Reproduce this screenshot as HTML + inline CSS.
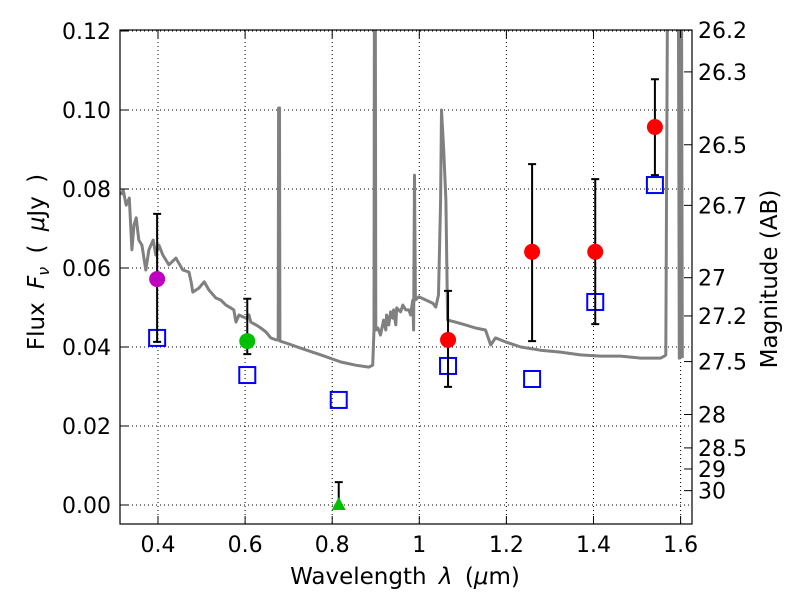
<!DOCTYPE html>
<html><head><meta charset="utf-8">
<style>
body{margin:0;background:#fff;}
svg text{font-family:"DejaVu Sans","Liberation Sans",sans-serif;}
</style></head>
<body>
<svg id="chart" width="800" height="600" xmlns="http://www.w3.org/2000/svg">
<defs><clipPath id="clip"><rect x="120" y="30" width="572" height="494"/></clipPath></defs>
<rect x="0" y="0" width="800" height="600" fill="#fff"/>
<g id="grid"></g>
<g id="spec" clip-path="url(#clip)"></g>
<g id="marks" clip-path="url(#clip)"></g>
<rect x="120" y="30" width="572" height="494" fill="none" stroke="#000" stroke-width="1.2"/>
<g id="axes"></g>
<text x="405" y="584" font-size="23" text-anchor="middle" word-spacing="5">Wavelength  <tspan font-style="italic">λ</tspan> (<tspan font-style="italic">μ</tspan>m)</text>
<text transform="translate(44,262) rotate(-90)" font-size="23" text-anchor="middle" word-spacing="6">Flux <tspan font-style="italic">F<tspan font-size="16" dy="5">ν</tspan></tspan><tspan dy="-5"> ( </tspan><tspan font-style="italic">μ</tspan>Jy )</text>
<text transform="translate(777,279) rotate(-90)" font-size="23" text-anchor="middle">Magnitude (AB)</text>
</svg>
<script>
const xTicks=[0.4,0.6,0.8,1.0,1.2,1.4,1.6];
const xTickLabels=["0.4","0.6","0.8","1","1.2","1.4","1.6"];
const yTicks=[0,0.02,0.04,0.06,0.08,0.10,0.12];
const yTickLabels=["0.00","0.02","0.04","0.06","0.08","0.10","0.12"];
const magTicks=[26.2,26.3,26.5,26.7,27,27.2,27.5,28,28.5,29,30];
const specWave=[0.315,0.320,0.327,0.334,0.340,0.345,0.350,0.356,0.363,0.372,0.379,0.389,0.395,0.402,0.411,0.425,0.441,0.457,0.471,0.476,0.480,0.494,0.506,0.517,0.533,0.544,0.556,0.567,0.574,0.579,0.586,0.602,0.609,0.613,0.625,0.636,0.648,0.659,0.671,0.676,0.677,0.679,0.680,0.694,0.728,0.774,0.820,0.854,0.884,0.893,0.896,0.897,0.899,0.900,0.905,0.911,0.918,0.923,0.925,0.930,0.934,0.939,0.941,0.946,0.948,0.957,0.962,0.969,0.976,0.980,0.985,0.987,0.989,0.991,0.999,1.015,1.031,1.038,1.044,1.049,1.051,1.056,1.061,1.065,1.083,1.106,1.129,1.152,1.164,1.175,1.198,1.233,1.278,1.324,1.370,1.416,1.462,1.508,1.554,1.563,1.566,1.570,1.595,1.597,1.600,1.602,1.604];
const specFlux=[0.0785,0.0797,0.0759,0.0777,0.0646,0.0709,0.0727,0.0671,0.0658,0.0595,0.0646,0.0671,0.0633,0.0658,0.0633,0.0608,0.0625,0.0595,0.0590,0.0565,0.0539,0.0549,0.0565,0.0544,0.0524,0.0519,0.0506,0.0499,0.0494,0.0463,0.0481,0.0473,0.0481,0.0463,0.0456,0.0448,0.0438,0.0423,0.0418,0.0418,0.1005,0.1005,0.0415,0.0410,0.0397,0.0380,0.0362,0.0354,0.0349,0.0354,0.0443,0.13,0.13,0.0443,0.0448,0.0430,0.0468,0.0443,0.0481,0.0456,0.0489,0.0473,0.0494,0.0456,0.0499,0.0489,0.0506,0.0494,0.0494,0.0481,0.0519,0.0443,0.0835,0.0519,0.0527,0.0519,0.0511,0.0501,0.0532,0.0772,0.1000,0.0899,0.0772,0.0468,0.0463,0.0456,0.0448,0.0443,0.0405,0.0423,0.0413,0.0400,0.0392,0.0387,0.0380,0.0377,0.0377,0.0372,0.0372,0.0377,0.0380,0.13,0.13,0.0372,0.13,0.13,0.0372];
const obsWave=[0.398,0.605,0.815,1.066,1.259,1.404,1.541];
const obsFlux=[0.0572,0.0415,0.0,0.0418,0.0641,0.0641,0.0957];
const obsErrHi=[0.0737,0.0522,0.0058,0.0542,0.0863,0.0825,0.1078];
const obsErrLo=[0.0413,0.0382,0.0,0.0299,0.0415,0.0458,0.0835];
const obsColors=["#bf00bf","#00bf00","#00bf00","#ff0000","#ff0000","#ff0000","#ff0000"];
const modelFlux=[0.0423,0.0329,0.0266,0.0352,0.0319,0.0514,0.0810];

const NS="http://www.w3.org/2000/svg";
const X=w=>158+(w-0.4)*435.5;
const Y=f=>505-f*3950;
function el(t,a,p){const e=document.createElementNS(NS,t);for(const k in a)e.setAttribute(k,a[k]);p.appendChild(e);return e;}
const grid=document.getElementById('grid'),axes=document.getElementById('axes'),spec=document.getElementById('spec'),marks=document.getElementById('marks');
xTicks.forEach((v,i)=>{
 const x=X(v);
 const g=el('line',{x1:x,x2:x,y1:30,y2:524,stroke:'#000','stroke-width':1,'stroke-dasharray':'1,3'},grid);
 
 
 el('line',{x1:x,x2:x,y1:524,y2:516,stroke:'#000'},axes);
 el('line',{x1:x,x2:x,y1:30,y2:38,stroke:'#000'},axes);
 const t=el('text',{x:x,y:552,'font-size':22,'text-anchor':'middle'},axes);t.textContent=xTickLabels[i];
 
 
});
yTicks.forEach((v,i)=>{
 const y=Y(v);
 const g=el('line',{x1:120,x2:692,y1:y,y2:y,stroke:'#000','stroke-width':1,'stroke-dasharray':'1,3'},grid);
 
 
 el('line',{x1:120,x2:128,y1:y,y2:y,stroke:'#000'},axes);
 const t=el('text',{x:111,y:y+8,'font-size':22,'text-anchor':'end'},axes);t.textContent=yTickLabels[i];
 
 
});
magTicks.forEach(m=>{
 const y=Y(Math.pow(10,(23.9-m)/2.5));
 el('line',{x1:692,x2:684,y1:y,y2:y,stroke:'#000'},axes);
 const t=el('text',{x:698,y:y+8,'font-size':22},axes);t.textContent=String(m);
 
 
});
const n=Math.min(specWave.length,specFlux.length);
let d='';for(let i=0;i<n;i++)d+=(i?'L':'M')+X(specWave[i]).toFixed(1)+','+Y(specFlux[i]).toFixed(1);
const sp=el('path',{d:d,fill:'none',stroke:'#808080','stroke-width':3,'stroke-linejoin':'round'},spec);


obsWave.forEach((w,i)=>{
 const x=X(w);
 const s=el('rect',{x:x-8,y:Y(modelFlux[i])-8,width:16,height:16,fill:'none',stroke:'#0000ff','stroke-width':2},marks);
 
 
});
obsWave.forEach((w,i)=>{
 const x=X(w);
 const e=el('path',{d:`M${x},${Y(obsErrHi[i])}V${Y(obsErrLo[i])}M${x-4},${Y(obsErrHi[i])}h8M${x-4},${Y(obsErrLo[i])}h8`,stroke:'#000','stroke-width':2,fill:'none'},marks);
 
 
 let m;
 if(i===2){const y=Y(obsFlux[i]);m=el('path',{d:`M${x},${y-8}L${x+7},${y+5}L${x-7},${y+5}Z`,fill:obsColors[i]},marks);}
 else m=el('circle',{cx:x,cy:Y(obsFlux[i]),r:8,fill:obsColors[i]},marks);
 
 
});
</script>
</body></html>
